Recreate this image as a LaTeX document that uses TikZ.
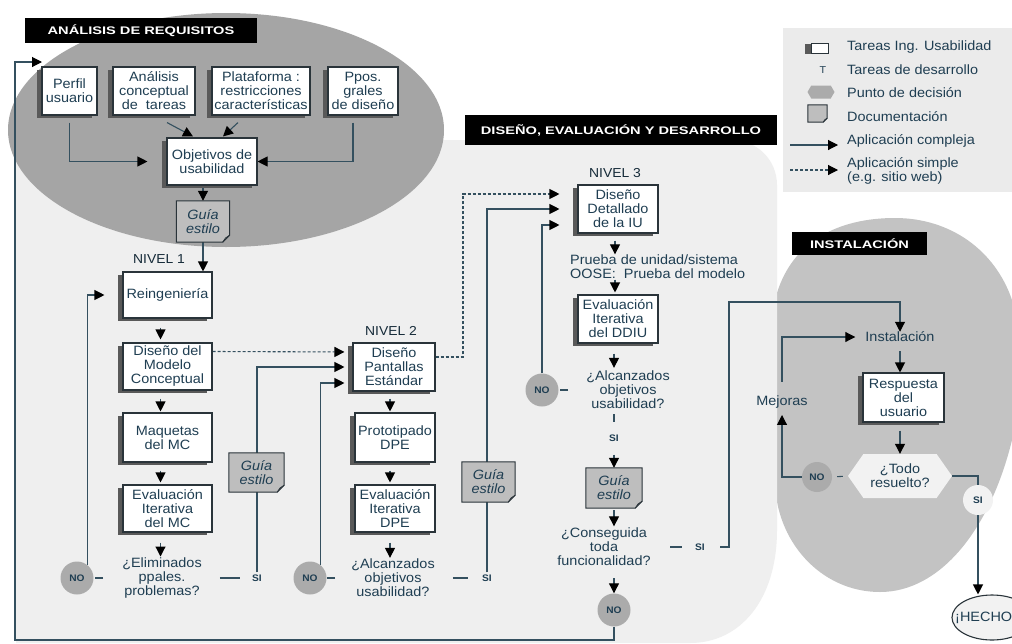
\documentclass[tikz,border=0pt]{standalone}
\usepackage{fontspec}
\setmainfont{Liberation Sans}[FakeStretch=1.07]
\newfontfamily\hdfont{Liberation Sans}[FakeStretch=1.33]
\usetikzlibrary{arrows.meta,shapes.geometric,shapes.symbols,shadows}
\definecolor{ink}{HTML}{1F3E52}
\definecolor{wire}{HTML}{34505F}
\definecolor{edge}{HTML}{2A343A}
\definecolor{darkreg}{HTML}{A5A5A5}
\definecolor{lightreg}{HTML}{EFEFEF}
\definecolor{instreg}{HTML}{C3C3C3}
\definecolor{legreg}{HTML}{EBEBEB}
\definecolor{docfill}{HTML}{BEBEBE}
\definecolor{decfill}{HTML}{ABABAB}
\definecolor{palefill}{HTML}{F2F2F2}
\pgfdeclarelayer{regions}
\pgfdeclarelayer{lines}
\pgfdeclarelayer{docs}
\pgfsetlayers{regions,lines,docs,main}

\begin{document}
\begin{tikzpicture}[x=1pt,y=-1pt,
  base/.style={font=\fontsize{13.5}{14}\selectfont, text=ink, align=center, inner sep=0pt},
  taskbox/.style={base, draw=edge, line width=1.1pt, fill=white,
    drop shadow={shadow xshift=-5pt, shadow yshift=-3pt, fill=black!65, opacity=1}},
  docbox/.style={base, font=\fontsize{13.5}{14}\selectfont\itshape},
  docedge/.style={draw=edge, line width=1pt, fill=docfill},
  decision/.style={base},
  nocirc/.style={circle, fill=decfill, minimum size=33pt, inner sep=0pt,
    font=\fontsize{9.5}{10}\selectfont\bfseries, text=ink},
  sitext/.style={inner sep=0pt, font=\fontsize{9.5}{10}\selectfont\bfseries, text=ink},
  header/.style={fill=black, text=white, inner sep=0pt,
    font=\hdfont\bfseries\fontsize{11}{12}\selectfont},
  level/.style={base, font=\fontsize{13}{14}\selectfont, text=ink!70!black},
  wireline/.style={draw=wire, line width=1.1pt},
  arr/.style={wireline, -{Triangle[length=10pt,width=10pt,color=black]}},
  dasharr/.style={arr, dash pattern=on 3pt off 2pt},
  legtext/.style={base, anchor=west, align=left}
]
\useasboundingbox (0,0) rectangle (1012,643);

% ---------- background regions ----------
\begin{pgfonlayer}{regions}
  \fill[white] (0,0) rectangle (1012,643);
  % installation area
  \fill[instreg] (775,300) .. controls (790,240) and (840,218) .. (895,218)
    .. controls (950,218) and (995,250) .. (1012,300) -- (1012,440)
    .. controls (990,530) and (940,592) .. (880,592)
    .. controls (820,592) and (775,540) .. (775,480) -- cycle;
  % design, evaluation and development area
  \fill[lightreg] (16,643) -- (16,140) -- (732,140)
    .. controls (757,140) and (777,160) .. (777,185) -- (777,530)
    .. controls (777,600) and (740,643) .. (690,643) -- cycle;
  % requirements analysis area
  \fill[darkreg] (226,130) ellipse [x radius=218pt, y radius=117pt];
  % legend panel
  \fill[legreg] (783,28) rectangle (1012,192);
\end{pgfonlayer}

% ---------- headers ----------
\node[header, minimum width=232pt, minimum height=25pt] (hdA) at (141,30.5) {ANÁLISIS DE REQUISITOS};
\node[header, minimum width=312pt, minimum height=30pt] (hdD) at (621,130) {DISEÑO, EVALUACIÓN Y DESARROLLO};
\node[header, minimum width=135pt, minimum height=23pt] (hdI) at (859.5,243.5) {INSTALACIÓN};

% ---------- requirements analysis ----------
\node[taskbox, minimum width=55pt, minimum height=48pt] (perfil) at (69.5,91) {Perfil\\usuario};
\node[taskbox, minimum width=82pt, minimum height=48pt] (anal) at (154,91) {Análisis\\conceptual\\de\ \ tareas};
\node[taskbox, minimum width=98pt, minimum height=48pt] (plat) at (261,91) {Plataforma :\\restricciones\\características};
\node[taskbox, minimum width=70pt, minimum height=48pt] (ppos) at (363,91) {Ppos.\\grales\\de diseño};
\node[taskbox, minimum width=90pt, minimum height=47pt] (obj) at (212,161.5) {Objetivos de\\usabilidad};
\node[docbox, minimum width=53pt, minimum height=41pt] (g1) at (203,221.5) {Guía\\estilo};

% ---------- level 1 ----------
\node[level] (n1) at (159,259) {NIVEL 1};
\node[taskbox, minimum width=89pt, minimum height=46pt] (reing) at (167.5,295) {Reingeniería};
\node[taskbox, minimum width=89pt, minimum height=47pt] (dmc) at (167.5,366.5) {Diseño del\\Modelo\\Conceptual};
\node[taskbox, minimum width=89pt, minimum height=49pt] (maq) at (167.5,437.5) {Maquetas\\del MC};
\node[taskbox, minimum width=89pt, minimum height=47pt] (emc) at (167.5,508.5) {Evaluación\\Iterativa\\del MC};
\node[decision] (dec1) at (162,578) {¿Eliminados\\ppales.\\problemas?};
\node[nocirc] (no1) at (77,578) {NO};
\node[sitext] (si1) at (257,578) {SI};
\node[docbox, minimum width=55pt, minimum height=39pt] (g2) at (256.5,472.5) {Guía\\estilo};

% ---------- level 2 ----------
\node[level] (n2) at (391,331) {NIVEL 2};
\node[taskbox, minimum width=82pt, minimum height=48pt] (dp) at (394,367) {Diseño\\Pantallas\\Estándar};
\node[taskbox, minimum width=80pt, minimum height=49pt] (proto) at (395,437.5) {Prototipado\\DPE};
\node[taskbox, minimum width=80pt, minimum height=47pt] (edpe) at (395,508.5) {Evaluación\\Iterativa\\DPE};
\node[decision] (dec2) at (393,578) {¿Alcanzados\\objetivos\\usabilidad?};
\node[nocirc] (no2) at (310,578) {NO};
\node[sitext] (si2) at (487,578) {SI};
\node[docbox, minimum width=53pt, minimum height=40pt] (g3) at (488.5,482) {Guía\\estilo};

% ---------- level 3 ----------
\node[level] (n3) at (615,173) {NIVEL 3};
\node[taskbox, minimum width=80pt, minimum height=48pt] (ddet) at (618,209) {Diseño\\Detallado\\de la IU};
\node[base, align=left, anchor=west] (prueba) at (570,266.5) {Prueba de unidad/sistema\\OOSE:\ \ Prueba del modelo};
\node[taskbox, minimum width=80pt, minimum height=48pt] (eddiu) at (618,319) {Evaluación\\Iterativa\\del DDIU};
\node[decision] (dec3) at (628,390) {¿Alcanzados\\objetivos\\usabilidad?};
\node[nocirc] (no3) at (542,390) {NO};
\node[sitext] (si5) at (614,438) {SI};
\node[docbox, minimum width=56pt, minimum height=40pt] (g4) at (614,488) {Guía\\estilo};
\node[decision] (dec4) at (604,547) {¿Conseguida\\toda\\funcionalidad?};
\node[nocirc] (no4) at (614,610) {NO};
\node[sitext] (si3) at (700,547) {SI};

% ---------- installation ----------
\node[base] (inst) at (900,337) {Instalación};
\node[taskbox, minimum width=81pt, minimum height=49pt] (resp) at (903.5,397.5) {Respuesta\\del\\usuario};
\node[base, signal, signal to=west and east, signal pointer angle=110, fill=palefill,
  minimum width=104pt, minimum height=44pt] (todo) at (900,476) {¿Todo\\resuelto?};
\node[nocirc, minimum size=30pt] (no5) at (817,477) {NO};
\node[base] (mej) at (782,402) {Mejoras};
\node[sitext, circle, fill=palefill, minimum size=30pt] (si4) at (978,500) {SI};
\node[ellipse, draw=edge, line width=1.1pt, fill=palefill, minimum width=80pt, minimum height=45pt] (hecho) at (992,617.5) {};
\node[base, anchor=west] (hechotxt) at (955,617.5) {¡HECHO};

% ---------- legend ----------
\node[draw=edge, line width=1pt, fill=white, minimum width=17pt, minimum height=10pt, inner sep=0pt,
  drop shadow={shadow xshift=-7pt, shadow yshift=-1pt, fill=black!65, opacity=1}] (legtask) at (820,48) {};
\node[base, font=\fontsize{10}{11}\selectfont] (legT) at (823,70) {T};
\node[signal, signal to=west and east, signal pointer angle=120, fill=decfill,
  minimum width=27pt, minimum height=13pt, inner sep=0pt] (legdec) at (821,92) {};
\node[minimum width=19pt, minimum height=17pt, inner sep=0pt] (legdoc) at (817.5,113.5) {};
\coordinate (lsa) at (790,145);
\coordinate (lsb) at (838,145);
\coordinate (lda) at (790,170);
\coordinate (ldb) at (838,170);
\node[legtext] (lt1) at (847,47) {Tareas Ing. Usabilidad};
\node[legtext] (lt2) at (847,70) {Tareas de desarrollo};
\node[legtext] (lt3) at (847,93) {Punto de decisión};
\node[legtext] (lt4) at (847,117) {Documentación};
\node[legtext] (lt5) at (847,141) {Aplicación compleja};
\node[legtext] (lt6) at (847,171) {Aplicación simple\\(e.g. sitio web)};

% ---------- free ends of the long loop ----------
\coordinate (loopcorner) at (15,640);
\coordinate (loopend) at (42,62);
\coordinate (dturn) at (463,194);
\coordinate (riser) at (729,302);

% ---------- documentation sheets ----------
\begin{pgfonlayer}{docs}
\foreach \d/\f in {g1/7,g2/7,g3/7,g4/7,legdoc/4}{
  \draw[docedge] (\d.north west) -- (\d.north east) -- ([yshift={\f}]\d.south east)
    -- ([xshift={-\f}]\d.south east) -- (\d.south west) -- cycle;
  \draw[draw=edge, line width=0.8pt] ([yshift={\f}]\d.south east)
    -- ([xshift={-0.6*\f}, yshift={0.6*\f}]\d.south east) -- ([xshift={-\f}]\d.south east);
}
\end{pgfonlayer}

% ---------- connectors ----------
\begin{pgfonlayer}{lines}
  % requirements
  \draw[arr, shorten <=7pt, shorten >=19pt] (perfil.south) |- (obj.west);
  \draw[arr, shorten <=7pt] ([xshift=-10pt]ppos.south) |- (obj.east);
  \draw[arr] ([xshift=13pt,yshift=-7pt]anal.south) -- ([xshift=-19pt,yshift=1pt]obj.north);
  \draw[arr] ([xshift=-23pt,yshift=-7pt]plat.south) -- ([xshift=11pt,yshift=1pt]obj.north);
  \draw[arr, shorten <=2pt] ([xshift=-9pt]obj.south) -- (g1.north);
  \draw[arr] (g1.south) -- (g1.south |- reing.north);
  % level 1
  \draw[arr, shorten <=9pt, shorten >=3pt] ([xshift=-7pt]reing.south) -- ([xshift=-7pt]dmc.north);
  \draw[arr, shorten <=8pt, shorten >=1pt] ([xshift=-7pt]dmc.south) -- ([xshift=-7pt]maq.north);
  \draw[arr, shorten <=8pt, shorten >=2pt] ([xshift=-7pt]maq.south) -- ([xshift=-7pt]emc.north);
  \draw[arr, shorten <=10pt, shorten >=1pt] ([xshift=-7pt]emc.south) -- ([xshift=-7pt]emc.south |- dec1.north);
  \draw[wireline, shorten <=19pt, shorten >=1.5pt] (dec1.west) -- (no1.east);
  \draw[wireline, shorten <=18pt, shorten >=12pt] (dec1.east) -- (si1.west);
  \draw[arr, shorten >=18pt] (no1.53) |- (reing.west);
  \draw[arr, shorten <=2pt, shorten >=8pt] (si1.north) |- (dp.west);
  \draw[arr, shorten >=8pt] (no2.53) |- ([yshift=-16pt]dp.west);
  \draw[dasharr, shorten >=8pt] ([yshift=15pt]dmc.east) -- ([yshift=15pt]dp.west);
  % level 2
  \draw[arr, shorten <=7pt, shorten >=1pt] ([xshift=-4pt]dp.south) -- ([xshift=-5pt]proto.north);
  \draw[arr, shorten <=8pt, shorten >=2pt] ([xshift=-5pt]proto.south) -- ([xshift=-5pt]edpe.north);
  \draw[arr, shorten <=10pt, shorten >=1pt] ([xshift=-5pt]edpe.south) -- ([xshift=-5pt]edpe.south |- dec2.north);
  \draw[wireline, shorten <=16pt, shorten >=0.5pt] (dec2.west) -- (no2.east);
  \draw[wireline, shorten <=18pt, shorten >=14pt] (dec2.east) -- (si2.west);
  \draw[arr, shorten <=2pt, shorten >=18pt] (si2.north) |- (ddet.west);
  \draw[dasharr, shorten >=18pt] ([yshift=10pt]dp.east) -| (dturn) -- ([yshift=15pt]ddet.west);
  \draw[arr, shorten >=18pt] (no3.north) |- ([yshift=-16pt]ddet.west);
  % level 3
  \draw[arr, shorten <=7pt] ([xshift=-3pt]ddet.south) -- ([xshift=-3pt]ddet.south |- prueba.north);
  \draw[arr, shorten <=1pt, shorten >=2pt] ([xshift=-3pt]eddiu.north |- prueba.south) -- ([xshift=-3pt]eddiu.north);
  \draw[arr, shorten <=10pt, shorten >=3pt] ([xshift=-4pt]eddiu.south) -- ([xshift=-4pt]eddiu.south |- dec3.north);
  \draw[wireline, shorten <=18pt, shorten >=1.5pt] (dec3.west) -- (no3.east);
  \draw[wireline, shorten <=5pt, shorten >=12pt] (si5.north |- dec3.south) -- (si5.north);
  \draw[arr, shorten <=13pt] (si5.south) -- (g4.north);
  \draw[arr, shorten <=2pt, shorten >=1.5pt] (g4.south) -- (g4.south |- dec4.north);
  \draw[arr, shorten <=12pt] (no4.north |- dec4.south) -- (no4.north);
  \draw[wireline, shorten <=19.5pt, shorten >=13pt] (dec4.east) -- (si3.west);
  \draw[arr, shorten <=15pt] (si3.east) -| (riser) -| (inst.north);
  \draw[arr] (no4.south) |- (loopcorner) |- (loopend);
  % installation
  \draw[arr, shorten <=9pt] (inst.south) -- (inst.south |- resp.north);
  \draw[arr, shorten <=8pt] (todo.north |- resp.south) -- (todo.north);
  \draw[wireline, shorten <=5pt, shorten >=5pt] (todo.west) -- (no5.east);
  \draw[arr, shorten >=6.5pt] (no5.west) -| (mej.south);
  \draw[arr, shorten <=14pt, shorten >=10pt] (mej.north) |- (inst.west);
  \draw[wireline] (todo.east) -| (si4.north);
  \draw[arr] (si4.south) -- (si4.south |- hecho.north);
  % legend
  \draw[arr] (lsa) -- (lsb);
  \draw[dasharr] (lda) -- (ldb);
\end{pgfonlayer}
\end{tikzpicture}
\end{document}
